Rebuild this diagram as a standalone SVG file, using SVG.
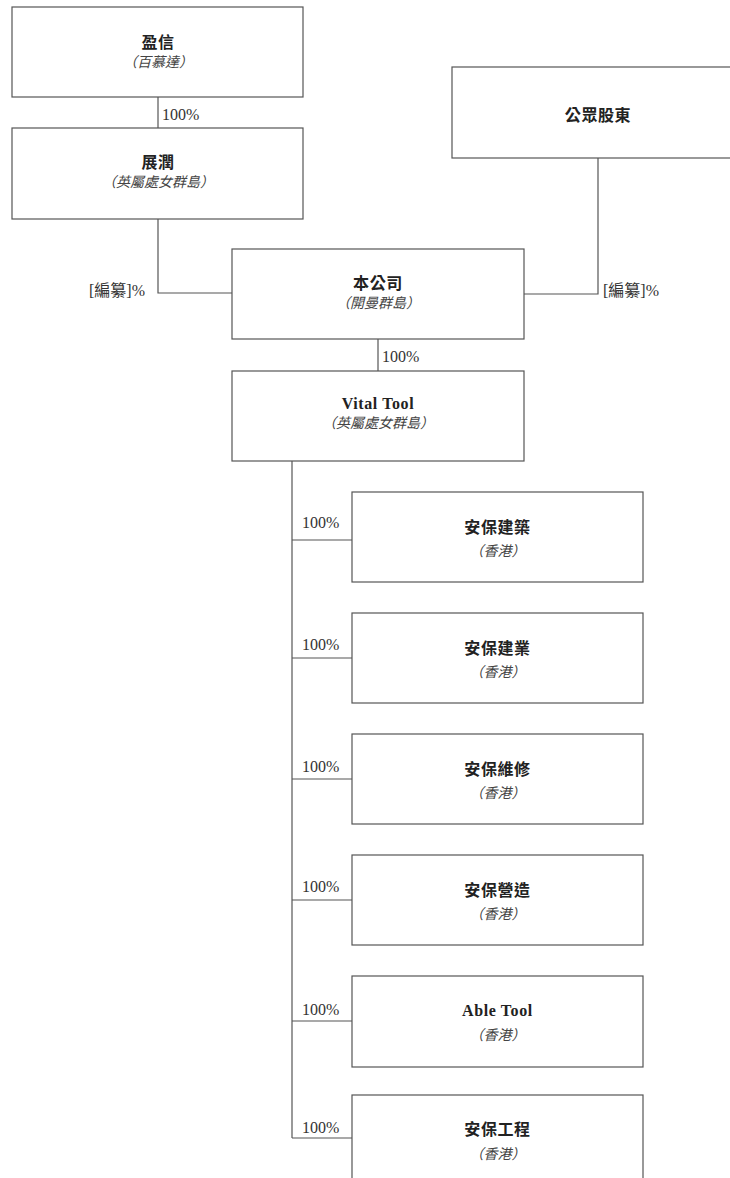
<svg xmlns="http://www.w3.org/2000/svg" width="730" height="1178" viewBox="0 0 730 1178">
<style>
.box{fill:#fff;stroke:#555;stroke-width:1.2}
.ln{fill:none;stroke:#555;stroke-width:1.2}
.t{font-family:"Liberation Serif","Noto Sans CJK TC",serif;font-size:16px;font-weight:bold;fill:#222;text-anchor:middle;letter-spacing:0.6px}
.s{font-family:"Liberation Serif","Noto Sans CJK TC",serif;font-size:14px;font-style:italic;fill:#444;text-anchor:middle}
.p{font-family:"Liberation Serif","Noto Sans CJK TC",serif;font-size:16px;fill:#333}
</style>
<rect width="730" height="1178" fill="#fff"/>
<g id="connectors">
<path class="ln" d="M158 97V128"/>
<path class="ln" d="M158 219V293H232"/>
<path class="ln" d="M598 158V294H524"/>
<path class="ln" d="M378 339V371"/>
<path class="ln" d="M292 461V1138"/>
<path class="ln" d="M292 540H352M292 658H352M292 779H352M292 900H352M292 1021H352M292 1138H352"/>
<text class="p" x="162" y="120">100%</text>
<text class="p" x="89" y="296">[編纂]%</text>
<text class="p" x="603" y="296">[編纂]%</text>
<text class="p" x="382" y="362">100%</text>
<text class="p" x="302" y="528">100%</text>
<text class="p" x="302" y="650">100%</text>
<text class="p" x="302" y="772">100%</text>
<text class="p" x="302" y="892">100%</text>
<text class="p" x="302" y="1015">100%</text>
<text class="p" x="302" y="1133">100%</text>
</g>
<g id="yingxin">
<rect class="box" x="12" y="7" width="291" height="90"/>
<text class="t" x="158" y="48">盈信</text>
<text class="s" x="158" y="67">（百慕達）</text>
</g>
<g id="zhanrun">
<rect class="box" x="12" y="128" width="291" height="91"/>
<text class="t" x="158" y="168">展潤</text>
<text class="s" x="158" y="187">（英屬處女群島）</text>
</g>
<g id="public">
<rect class="box" x="452" y="67" width="300" height="91"/>
<text class="t" x="598" y="121">公眾股東</text>
</g>
<g id="company">
<rect class="box" x="232" y="249" width="292" height="90"/>
<text class="t" x="378" y="289">本公司</text>
<text class="s" x="378" y="308">（開曼群島）</text>
</g>
<g id="vitaltool">
<rect class="box" x="232" y="371" width="292" height="90"/>
<text class="t" x="378" y="409">Vital Tool</text>
<text class="s" x="378" y="428">（英屬處女群島）</text>
</g>
<g id="c1">
<rect class="box" x="352" y="492" width="291" height="90"/>
<text class="t" x="497.5" y="533">安保建築</text>
<text class="s" x="497.5" y="556">（香港）</text>
</g>
<g id="c2">
<rect class="box" x="352" y="613" width="291" height="90"/>
<text class="t" x="497.5" y="654">安保建業</text>
<text class="s" x="497.5" y="677">（香港）</text>
</g>
<g id="c3">
<rect class="box" x="352" y="734" width="291" height="90"/>
<text class="t" x="497.5" y="775">安保維修</text>
<text class="s" x="497.5" y="798">（香港）</text>
</g>
<g id="c4">
<rect class="box" x="352" y="855" width="291" height="90"/>
<text class="t" x="497.5" y="896">安保營造</text>
<text class="s" x="497.5" y="919">（香港）</text>
</g>
<g id="c5">
<rect class="box" x="352" y="976" width="291" height="91"/>
<text class="t" x="497.5" y="1016">Able Tool</text>
<text class="s" x="497.5" y="1040">（香港）</text>
</g>
<g id="c6">
<rect class="box" x="352" y="1095" width="291" height="100"/>
<text class="t" x="497.5" y="1135">安保工程</text>
<text class="s" x="497.5" y="1159">（香港）</text>
</g>
</svg>
